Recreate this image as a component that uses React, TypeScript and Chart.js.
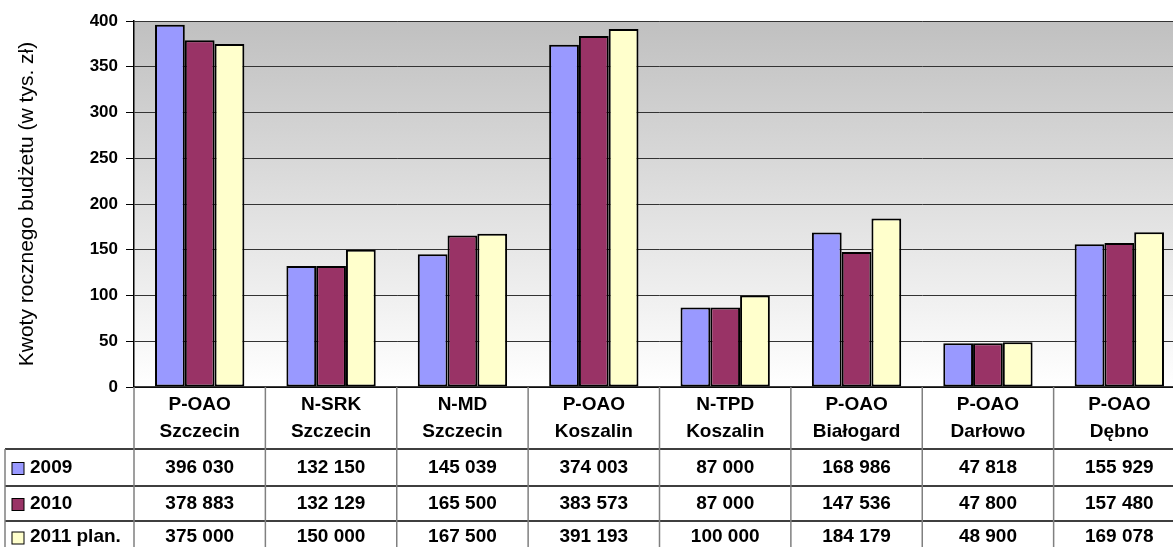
import { useEffect, useRef } from "react";
import { Chart, registerables } from "chart.js";

Chart.register(...registerables);

const categories: string[][] = [
  ["P-OAO", "Szczecin"],
  ["N-SRK", "Szczecin"],
  ["N-MD", "Szczecin"],
  ["P-OAO", "Koszalin"],
  ["N-TPD", "Koszalin"],
  ["P-OAO", "Białogard"],
  ["P-OAO", "Darłowo"],
  ["P-OAO", "Dębno"],
];

const seriesLabels = ["2009", "2010", "2011 plan."];
const values2009 = [396030, 132150, 145039, 374003, 87000, 168986, 47818, 155929];
const values2010 = [378883, 132129, 165500, 383573, 87000, 147536, 47800, 157480];
const values2011 = [375000, 150000, 167500, 391193, 100000, 184179, 48900, 169078];
const seriesColors = ["#9999ff", "#993366", "#ffffcc"];

const yMin = 0;
const yMax = 400;
const yStep = 50;
const yTitle = "Kwoty rocznego budżetu (w tys. zł)";

const FONT = "'Liberation Sans', Arial, sans-serif";
const seriesValues = [values2009, values2010, values2011];

const fmt = (v: number) => String(v).replace(/\B(?=(\d{3})+(?!\d))/g, " ");

const ROW_LINES = [449, 486, 521, 553];
const LEGEND_LEFT = 5;

const bgPlugin = {
  id: "plotBg",
  beforeDraw(chart: any) {
    const { ctx, chartArea: a } = chart;
    const g = ctx.createLinearGradient(0, a.top, 0, a.bottom);
    g.addColorStop(0, "#c0c0c0");
    g.addColorStop(1, "#ffffff");
    ctx.save();
    ctx.fillStyle = g;
    ctx.fillRect(a.left, a.top, a.right - a.left, a.bottom - a.top);
    ctx.restore();
  },
};

const tablePlugin = {
  id: "dataTable",
  afterDraw(chart: any) {
    const { ctx, chartArea: a, scales } = chart;
    const xs = scales.x;
    const n = categories.length;
    const w = (a.right - a.left) / n;
    const bottom = chart.height + 10;
    ctx.save();
    ctx.strokeStyle = "#000";
    ctx.lineWidth = 1.5;
    ctx.beginPath();
    ctx.moveTo(a.left, a.bottom);
    ctx.lineTo(chart.width, a.bottom);
    ROW_LINES.slice(0, 3).forEach((y) => {
      ctx.moveTo(LEGEND_LEFT, y);
      ctx.lineTo(chart.width, y);
    });
    ctx.stroke();
    ctx.strokeStyle = "#808080";
    ctx.beginPath();
    ctx.moveTo(LEGEND_LEFT, ROW_LINES[0]);
    ctx.lineTo(LEGEND_LEFT, bottom);
    for (let i = 0; i <= n; i++) {
      const x = a.left + i * w;
      ctx.moveTo(x, a.bottom);
      ctx.lineTo(x, bottom);
    }
    ctx.stroke();

    ctx.fillStyle = "#000";
    ctx.font = `bold 19px ${FONT}`;
    ctx.textAlign = "center";
    ctx.textBaseline = "middle";
    categories.forEach((c, i) => {
      const cx = xs.getPixelForValue(i);
      ctx.fillText(c[0], cx, 405);
      ctx.fillText(c[1], cx, 432);
    });

    seriesValues.forEach((vals, r) => {
      const cy = (ROW_LINES[r] + ROW_LINES[r + 1]) / 2;
      ctx.textAlign = "center";
      ctx.fillStyle = "#000";
      vals.forEach((v, i) => {
        ctx.fillText(fmt(v), xs.getPixelForValue(i), cy);
      });
      ctx.fillStyle = seriesColors[r];
      ctx.fillRect(12, cy - 5, 12, 12);
      ctx.strokeStyle = "#000";
      ctx.lineWidth = 1;
      ctx.strokeRect(12, cy - 5, 12, 12);
      ctx.fillStyle = "#000";
      ctx.textAlign = "left";
      ctx.fillText(seriesLabels[r], 30, cy);
    });
    ctx.restore();
  },
};

export default function App() {
  const ref = useRef<HTMLCanvasElement | null>(null);

  useEffect(() => {
    document.body.style.margin = "0";
    if (!ref.current) return;
    const chart = new Chart(ref.current, {
      type: "bar",
      data: {
        labels: categories.map((c) => c.join(" ")),
        datasets: seriesValues.map((vals, i) => ({
          label: seriesLabels[i],
          data: vals.map((v) => v / 1000),
          backgroundColor: seriesColors[i],
          borderColor: "#000",
          borderWidth: 2,
          borderSkipped: false,
          barPercentage: 1,
          categoryPercentage: 0.68,
        })),
      },
      options: {
        animation: false,
        responsive: false,
        devicePixelRatio: 1,
        layout: { padding: { left: 15, top: 21, right: 0, bottom: 160 } },
        plugins: { legend: { display: false }, tooltip: { enabled: false } },
        scales: {
          x: { display: false },
          y: {
            min: yMin,
            max: yMax,
            ticks: {
              stepSize: yStep,
              color: "#000",
              padding: 8,
              font: { family: FONT, size: 17, weight: "bold" },
            },
            grid: { color: "#333", lineWidth: 1, tickLength: 8, tickColor: "#000" },
            border: { color: "#000", width: 1.5 },
            title: {
              display: true,
              text: yTitle,
              color: "#000",
              font: { family: FONT, size: 21 },
              padding: { top: 0, bottom: 0 },
            },
            afterFit(scale: any) {
              scale.width = 119;
            },
          },
        },
      },
      plugins: [bgPlugin, tablePlugin],
    });
    return () => chart.destroy();
  }, []);

  return (
    <div style={{ width: 1173, height: 547, overflow: "hidden", position: "relative" }}>
      <canvas ref={ref} width={1185} height={547} style={{ display: "block" }} />
    </div>
  );
}
